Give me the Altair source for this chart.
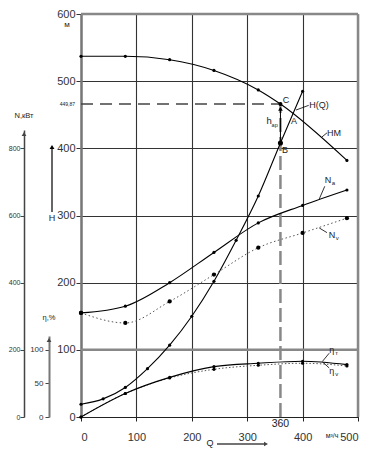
import altair as alt
import pandas as pd

# ---- data ----
HM_Q = [0, 80, 160, 240, 320, 360, 480]
HM_H = [537, 537, 532, 516, 487, 466, 382]
HQ_Q = [0, 40, 80, 120, 160, 200, 240, 280, 320, 360, 400]
HQ_H = [19, 27, 44, 72, 107, 150, 202, 263, 329, 408, 485]
N_Q = [0, 80, 160, 240, 320, 400, 480]
NA_KW = [310, 330, 400, 490, 578, 630, 676]
NV_KW = [310, 280, 344, 424, 504, 548, 592]
ETA_Q = [0, 80, 160, 240, 320, 400, 480]
ETA_T = [0, 35, 59, 75, 80, 83, 78]
ETA_V = [0, 35, 58, 71, 77, 80, 76]
Q_OP = 360
H_C = 466
H_B = 408
X_TICKS = [0, 100, 200, 300, 400, 500]
H_TICKS = [0, 100, 200, 300, 400, 500, 600]
N_TICKS = [0, 200, 400, 600, 800]
ETA_TICKS = [0, 50, 100]

W, HGT = 277, 403
TOP = 6
FONT = "Liberation Sans"
TXT = "#222"

# pixel tops (relative to plot) of the auxiliary axis arrows
N_TOP_PX = 116
E_TOP_PX = 322
PX_PER_H = HGT / 600.0
N_DOM_TOP = (HGT - N_TOP_PX) / PX_PER_H * 2
E_DOM_TOP = (HGT - E_TOP_PX) / PX_PER_H

xs = alt.Scale(domain=[0, 500], nice=False, zero=False)
x_axis = alt.Axis(values=X_TICKS, grid=True, gridColor="#333", gridWidth=1.1,
                  domainColor="#222", domainWidth=1.2, tickColor="#222", tickSize=4,
                  labelPadding=10, labelFontSize=11, labelColor="#333", title=None,
                  labelFont=FONT)

hs = alt.Scale(domain=[0, 600], nice=False, zero=False)
h_axis = alt.Axis(values=H_TICKS, grid=True, gridColor="#333", gridWidth=1.1,
                  domainColor="#777", domainWidth=2.5, tickColor="#333", tickSize=5,
                  labelPadding=1, labelFontSize=11, labelColor="#333", title=None,
                  labelFont=FONT)

ns = alt.Scale(domain=[0, N_DOM_TOP], range=[HGT, N_TOP_PX], nice=False, zero=False)
n_axis = alt.Axis(orient="left", offset=57, values=N_TICKS, grid=False,
                  domainColor="#444", domainWidth=1.5, tickColor="#444", tickSize=4,
                  labelPadding=0, labelFontSize=7, labelColor="#333", title=None,
                  labelFont=FONT)

es = alt.Scale(domain=[0, E_DOM_TOP], range=[HGT, E_TOP_PX], nice=False, zero=False)
e_axis = alt.Axis(orient="left", offset=32, values=ETA_TICKS, grid=False,
                  domainColor="#777", domainWidth=2, tickColor="#444", tickSize=4,
                  labelPadding=2, labelFontSize=8, labelColor="#333", title=None,
                  labelFont=FONT)


def X():
    return alt.X("q:Q", scale=xs, axis=x_axis)


def YH():
    return alt.Y("h:Q", scale=hs, axis=h_axis)


def YN():
    return alt.Y("n:Q", scale=ns, axis=n_axis)


def YE():
    return alt.Y("e:Q", scale=es, axis=e_axis)


def one(**kw):
    return pd.DataFrame({k: [v] for k, v in kw.items()})


def txt(df, size, yenc=None, xenc=None, align="left", dx=0, dy=0):
    return alt.Chart(df).mark_text(align=align, baseline="middle", fontSize=size,
                                   font=FONT, color=TXT, dx=dx, dy=dy).encode(
        x=xenc if xenc is not None else X(), y=yenc if yenc is not None else YH(),
        text="t:N")


def py(page_y):
    """page y -> y relative to plot top"""
    return page_y - 8 - TOP


# ---- main (head) layer ----
hm = pd.DataFrame({"q": HM_Q, "h": HM_H})
hq = pd.DataFrame({"q": HQ_Q, "h": HQ_H})
dummy = one(q=0, h=0)

main_parts = [
    alt.Chart(dummy).mark_rule(color="#888", strokeWidth=2.5).encode(x=alt.datum(500)),
    alt.Chart(dummy).mark_rule(color="#888", strokeWidth=2.5).encode(y=alt.datum(600)),
    alt.Chart(dummy).mark_rule(color="#888", strokeWidth=2.5).encode(y=alt.datum(100)),
    # dashed operating lines
    alt.Chart(one(q=0, q2=Q_OP, h=H_C)).mark_rule(color="#444", strokeWidth=1.5,
                                                  strokeDash=[12, 7]).encode(
        x=X(), x2="q2:Q", y=YH()),
    alt.Chart(one(q=Q_OP, h=0, h2=H_C)).mark_rule(color="#888", strokeWidth=2.5,
                                                 strokeDash=[14, 5]).encode(
        x=X(), y=YH(), y2="h2:Q"),
    # h_ap arrow
    alt.Chart(one(q=Q_OP, h=H_B, h2=H_C - 6)).mark_rule(color="black", strokeWidth=1).encode(
        x=X(), y=YH(), y2="h2:Q"),
    alt.Chart(one(q=Q_OP, h=H_C - 7)).mark_point(shape="triangle-up", filled=True, size=22,
                                                 color="black", opacity=1).encode(x=X(), y=YH()),
    # curves
    alt.Chart(hm).mark_line(color="black", strokeWidth=1.1, interpolate="monotone").encode(
        x=X(), y=YH()),
    alt.Chart(hm).mark_circle(color="black", size=10, opacity=1).encode(x=X(), y=YH()),
    alt.Chart(hq).mark_line(color="black", strokeWidth=1.1, interpolate="monotone").encode(
        x=X(), y=YH()),
    alt.Chart(hq).mark_circle(color="black", size=10, opacity=1).encode(x=X(), y=YH()),
    alt.Chart(one(q=Q_OP, h=H_B)).mark_circle(color="black", size=26, opacity=1).encode(
        x=X(), y=YH()),
    alt.Chart(one(q=Q_OP, h=H_C)).mark_circle(color="black", size=16, opacity=1).encode(
        x=X(), y=YH()),
    # leaders
    alt.Chart(one(q=388, q2=411, h=457, h2=464)).mark_rule(color="black", strokeWidth=0.8).encode(
        x=X(), x2="q2:Q", y=YH(), y2="h2:Q"),
    alt.Chart(one(q=435, q2=444, h=417, h2=423)).mark_rule(color="black", strokeWidth=0.8).encode(
        x=X(), x2="q2:Q", y=YH(), y2="h2:Q"),
    # labels
    txt(one(q=364, h=472, t="C"), 9),
    txt(one(q=379, h=441, t="A"), 9),
    txt(one(q=363, h=397, t="B"), 9),
    txt(one(q=335, h=440, t="h"), 9.5),
    txt(one(q=344, h=435, t="ар"), 5.5),
    txt(one(q=412, h=464, t="H(Q)"), 9),
    txt(one(q=444, h=423, t="HM"), 9),
    txt(one(q=0, h=H_C, t="449,87"), 5, xenc=alt.value(-6), align="right"),
    txt(one(q=Q_OP, h=0, t="360"), 10.5, yenc=alt.value(py(424)), align="center"),
    # off-plot decorations
    txt(one(t="м"), 8, xenc=alt.value(-14), yenc=alt.value(py(25)), align="center"),
    txt(one(t="H"), 9, xenc=alt.value(-29), yenc=alt.value(py(218)), align="center"),
    alt.Chart(dummy).mark_rule(color="black", strokeWidth=1.2).encode(
        x=alt.value(-29), y=alt.value(py(212)), y2=alt.value(py(147))),
    alt.Chart(dummy).mark_point(shape="triangle-up", filled=True, size=24, color="black",
                                opacity=1).encode(x=alt.value(-29), y=alt.value(py(147))),
    txt(one(t="N,кВт"), 7.5, xenc=alt.value(-57), yenc=alt.value(py(116)), align="center"),
    txt(one(t="η,%"), 7.5, xenc=alt.value(-32), yenc=alt.value(py(318)), align="center"),
    txt(one(t="Q"), 9, xenc=alt.value(129), yenc=alt.value(py(443)), align="center"),
    alt.Chart(dummy).mark_rule(color="#444", strokeWidth=1.6).encode(
        x=alt.value(136), x2=alt.value(184), y=alt.value(py(444))),
    alt.Chart(dummy).mark_point(shape="triangle-right", filled=True, size=22, color="#444",
                                opacity=1).encode(x=alt.value(185), y=alt.value(py(444))),
    txt(one(t="м³/ч"), 7, xenc=alt.value(251), yenc=alt.value(py(436)), align="center"),
]
main = alt.layer(*main_parts)

# ---- power layer ----
na = pd.DataFrame({"q": N_Q, "n": NA_KW})
nv = pd.DataFrame({"q": N_Q, "n": NV_KW})
n_parts = [
    alt.Chart(na).mark_line(color="black", strokeWidth=1.1, interpolate="monotone").encode(
        x=X(), y=YN()),
    alt.Chart(na).mark_circle(color="black", size=10, opacity=1).encode(x=X(), y=YN()),
    alt.Chart(nv).mark_line(color="#555", strokeWidth=1, strokeDash=[1.5, 2.5],
                            interpolate="monotone").encode(x=X(), y=YN()),
    alt.Chart(nv).mark_circle(color="black", size=18, opacity=1).encode(x=X(), y=YN()),
    alt.Chart(one(q=0, n=NA_KW[0])).mark_circle(color="black", size=18, opacity=1).encode(
        x=X(), y=YN()),
    alt.Chart(one(q=430, q2=440, n=649, n2=687)).mark_rule(color="black", strokeWidth=0.8).encode(
        x=X(), x2="q2:Q", y=YN(), y2="n2:Q"),
    alt.Chart(one(q=430, q2=444, n=563, n2=549)).mark_rule(color="black", strokeWidth=0.8).encode(
        x=X(), x2="q2:Q", y=YN(), y2="n2:Q"),
    txt(one(q=440, n=705, t="N"), 9, yenc=YN()),
    txt(one(q=440, n=705, t="а"), 6, yenc=YN(), dx=7, dy=3),
    txt(one(q=447, n=543, t="N"), 9, yenc=YN()),
    txt(one(q=447, n=543, t="v"), 6, yenc=YN(), dx=7, dy=3),
    alt.Chart(dummy).mark_point(shape="triangle-up", filled=True, size=22, color="#444",
                                opacity=1).encode(x=alt.value(-57), y=alt.value(N_TOP_PX + 4)),
]
n_layer = alt.layer(*n_parts)

# ---- efficiency layer ----
et = pd.DataFrame({"q": ETA_Q, "e": ETA_T})
ev = pd.DataFrame({"q": ETA_Q, "e": ETA_V})
e_parts = [
    alt.Chart(ev).mark_line(color="#555", strokeWidth=1, strokeDash=[1.5, 2],
                            interpolate="monotone").encode(x=X(), y=YE()),
    alt.Chart(ev).mark_circle(color="black", size=10, opacity=1).encode(x=X(), y=YE()),
    alt.Chart(et).mark_line(color="black", strokeWidth=1.1, interpolate="monotone").encode(
        x=X(), y=YE()),
    alt.Chart(et).mark_circle(color="black", size=10, opacity=1).encode(x=X(), y=YE()),
    alt.Chart(one(q=436, q2=448, e=83, e2=95)).mark_rule(color="black", strokeWidth=0.8).encode(
        x=X(), x2="q2:Q", y=YE(), y2="e2:Q"),
    alt.Chart(one(q=436, q2=448, e=82, e2=73)).mark_rule(color="black", strokeWidth=0.8).encode(
        x=X(), x2="q2:Q", y=YE(), y2="e2:Q"),
    txt(one(q=448, e=100, t="η"), 9, yenc=YE()),
    txt(one(q=448, e=100, t="т"), 6, yenc=YE(), dx=6, dy=3),
    txt(one(q=448, e=69, t="η"), 9, yenc=YE()),
    txt(one(q=448, e=69, t="v"), 6, yenc=YE(), dx=6, dy=3),
    alt.Chart(dummy).mark_point(shape="triangle-up", filled=True, size=22, color="#444",
                                opacity=1).encode(x=alt.value(-32), y=alt.value(E_TOP_PX + 4)),
]
e_layer = alt.layer(*e_parts)

chart = alt.layer(main, n_layer, e_layer).resolve_scale(y="independent").properties(
    width=W, height=HGT,
    autosize=alt.AutoSizeParams(type="none"),
    padding={"left": 73, "top": TOP, "right": 4, "bottom": 453 - 8 - TOP - HGT},
    background="white",
).configure_view(stroke=None)

chart.save("out.html", embed_options={"renderer": "svg", "actions": False})
